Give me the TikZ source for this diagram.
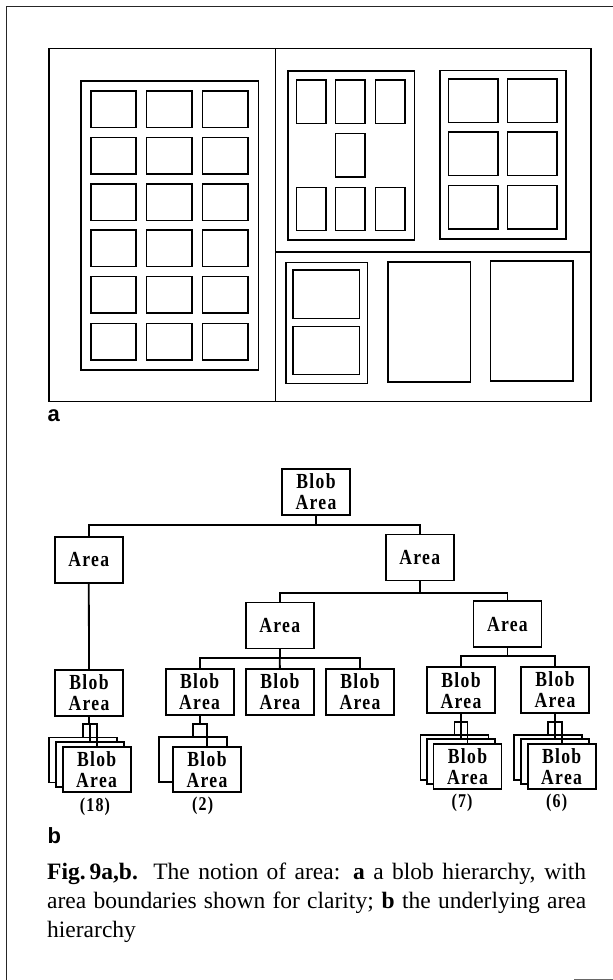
\documentclass[tikz,border=0pt]{standalone}
\usepackage{fontspec}
\setmainfont{Liberation Serif}
\newfontfamily\panelfont{Liberation Sans}
\newfontfamily\blobfont[FakeStretch=0.82,LetterSpace=6]{Liberation Serif}
\usetikzlibrary{positioning}

\tikzset{
  frameline/.style={line width=1pt, black!85},
  wall/.style={line width=1.7pt},
  blob/.style={line width=1.6pt},
  nodebox/.style={draw, line width=1.8pt, fill=white, minimum width=68pt,
    minimum height=46pt, inner sep=0pt, align=center,
    font=\blobfont\bfseries\fontsize{21.5}{21}\selectfont},
  card/.style={nodebox, minimum height=45pt},
  link/.style={line width=1.8pt},
  count/.style={font=\blobfont\bfseries\fontsize{19.5}{19}\selectfont},
  panellabel/.style={anchor=base west, inner sep=0pt,
    font=\panelfont\bfseries\fontsize{22}{22}\selectfont},
  capline/.style={anchor=base west, inner sep=0pt,
    font=\fontsize{23.5}{29}\selectfont},
}

\begin{document}
\begin{tikzpicture}[x=1pt, y=-1pt]
  \useasboundingbox (0,0) rectangle (613,980);
  % page frame
  \draw[frameline] (6.6,980) -- (6.6,6.6) -- (613,6.6);
  \draw[line width=1.2pt, black!60] (574,979.3) -- (613,979.3);

  % panel a: blobs with area boundaries
  \draw[wall] (48.9,48.5) rectangle (591,401.5);
  \draw[wall] (275.6,48.5) -- (275.6,401.5);
  \draw[wall] (275.6,252.3) -- (591,252.3);
  \draw[blob] (81,81) rectangle (258.4,370);
  \foreach \x in {90.7,146.6,202.5}
    \foreach \y in {91,137.3,184,230,276.3,323.3}
      \draw[blob] (\x,\y) rectangle ++(45.5,36.4);
  \draw[blob] (288,71) rectangle (414.4,239.7);
  \foreach \x in {296.3,335.4,375.3} {
    \draw[blob] (\x,80) rectangle ++(29.5,43.5);
    \draw[blob] (\x,187.3) rectangle ++(29.5,43);
  }
  \draw[blob] (335.4,133.3) rectangle ++(29.5,43.5);
  \draw[blob] (439.8,70.3) rectangle (566,239);
  \foreach \x in {448.4,507.4}
    \foreach \y in {79,132,185.3}
      \draw[blob] (\x,\y) rectangle ++(49.3,43.5);
  \draw[blob] (285.8,262.3) rectangle (367.5,383.3);
  \draw[blob] (292.8,270) rectangle (359.3,318.3);
  \draw[blob] (292.8,326.3) rectangle (359.3,374.3);
  \draw[blob] (388.2,261.7) rectangle (470.3,381.7);
  \draw[blob] (490.6,260.7) rectangle (572.7,381);
  \node[panellabel] (labA) at (47.5,421) {a};

  % panel b: area hierarchy
  \node[nodebox] (root) at (316,492) {Blob\\Area};
  \node[nodebox] (areaL) at (88.8,560) {Area};
  \node[nodebox] (areaR) at (419.8,557.5) {Area};
  \node[nodebox] (areaM) at (279.7,625.5) {Area};
  \node[nodebox] (areaN) at (507.4,624.2) {Area};
  \node[nodebox] (blobL) at (89,693) {Blob\\Area};
  \node[nodebox] (blobA) at (199.6,692) {Blob\\Area};
  \node[nodebox] (blobB) at (279.9,692) {Blob\\Area};
  \node[nodebox] (blobC) at (360,692) {Blob\\Area};
  \node[nodebox] (blobD) at (461,690.3) {Blob\\Area};
  \node[nodebox] (blobE) at (555,689.7) {Blob\\Area};

  \draw[link] (root.south) -- ++(0,9) coordinate (jR) -| (areaL.north);
  \draw[link] (jR) -| (areaR.north);
  \draw[link] (areaL.south) -- (blobL.north);
  \draw[link] (areaR.south) -- ++(0,11.5) coordinate (jA) -| (areaM.north);
  \draw[link] (jA) -| (areaN.north);
  \draw[link] (areaM.south) -- ++(0,8.5) coordinate (jM) -| (blobA.north);
  \draw[link] (jM) -- (blobB.north);
  \draw[link] (jM) -| (blobC.north);
  \draw[link] (areaN.south) -- ++(0,8) coordinate (jN) -| (blobD.north);
  \draw[link] (jN) -| (blobE.north);

  % stacked children
  \node[card] (s18a) at (83.2,760) {};
  \node[card] (s18b) at (89.9,764.6) {};
  \node[card] (s18c) at (96.6,769.2) {Blob\\Area};
  \node[card] (s2a) at (193.3,759.2) {};
  \node[card] (s2b) at (207,769.2) {Blob\\Area};
  \node[card] (s7a) at (454.5,757.2) {};
  \node[card] (s7b) at (460.9,761.7) {};
  \node[card] (s7c) at (467.5,766.2) {Blob\\Area};
  \node[card] (s6a) at (548,757.2) {};
  \node[card] (s6b) at (554.8,761.7) {};
  \node[card] (s6c) at (561.6,766.2) {Blob\\Area};

  \coordinate (k18) at (89,724);
  \draw[link] (blobL.south) -- (k18);
  \draw[link] (s18a.north) |- (k18) -| (s18c.north);
  \draw[link] (s18b.north) -- (s18b.north |- k18);
  \coordinate (k2) at (199.6,724);
  \draw[link] (blobA.south) -- (k2);
  \draw[link] (s2a.north) |- (k2) -| (s2b.north);
  \coordinate (k7) at (461,721.7);
  \draw[link] (blobD.south) -- (k7);
  \draw[link] (s7a.north) |- (k7) -| (s7c.north);
  \draw[link] (s7b.north) -- (s7b.north |- k7);
  \coordinate (k6) at (555,721.7);
  \draw[link] (blobE.south) -- (k6);
  \draw[link] (s6a.north) |- (k6) -| (s6c.north);
  \draw[link] (s6b.north) -- (s6b.north |- k6);

  \node[count] (n18) at (95,806.5) {(18)};
  \node[count] (n2) at (202.7,806) {(2)};
  \node[count] (n7) at (462,803) {(7)};
  \node[count] (n6) at (556.7,803) {(6)};
  \node[panellabel] (labB) at (47.5,843) {b};

  % caption
  \node[capline] (cap1) at (47,879) {\makebox[539pt][s]{\textbf{Fig.\,9a,b.} The notion of area: \textbf{a} a blob hierarchy, with}};
  \node[capline] (cap2) at (47,908) {\makebox[539pt][s]{area boundaries shown for clarity; \textbf{b} the underlying area}};
  \node[capline] (cap3) at (47,937) {hierarchy};
\end{tikzpicture}
\end{document}
